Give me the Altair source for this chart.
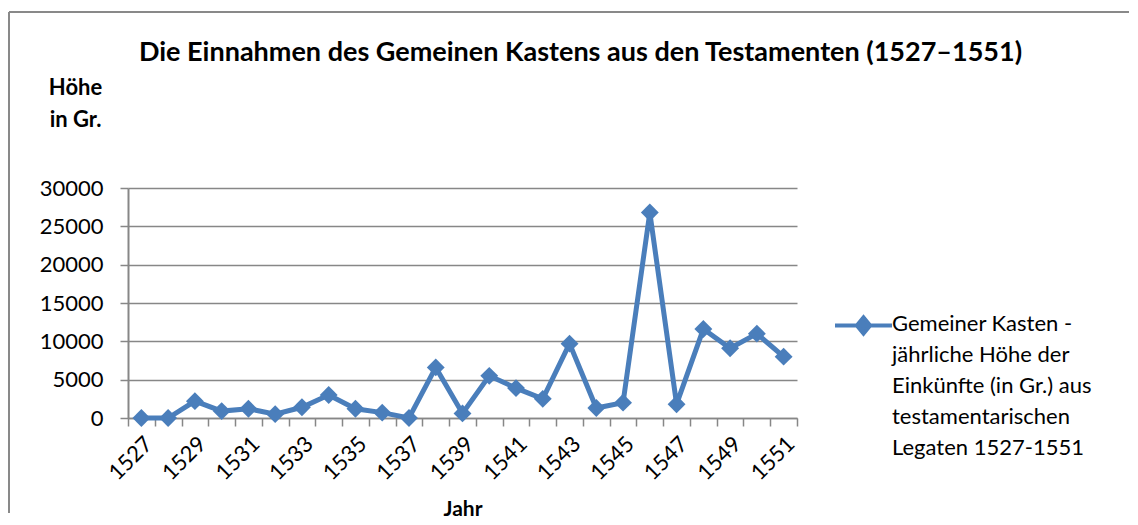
import altair as alt
import pandas as pd

years = list(range(1527, 1552))
values = [0, 0, 2200, 900, 1200, 500, 1400, 3000, 1200, 700, 0, 6600, 600,
          5500, 3900, 2500, 9700, 1300, 2000, 26800, 1800, 11600, 9100, 11000, 8000]
series_name = "Gemeiner Kasten - jährliche Höhe der Einkünfte (in Gr.) aus testamentarischen Legaten 1527-1551"
legend_lines = ["Gemeiner Kasten -", "jährliche Höhe der", "Einkünfte (in Gr.) aus",
                "testamentarischen", "Legaten 1527-1551"]
title_text = "Die Einnahmen des Gemeinen Kastens aus den Testamenten (1527–1551)"
y_title = ["Höhe", "in Gr."]
x_title = "Jahr"
y_ticks = [0, 5000, 10000, 15000, 20000, 25000, 30000]

df = pd.DataFrame({"Jahr": years, "Wert": values, "Serie": [series_name] * len(years)})

BLUE = "#4a7ebb"
GRID = "#878787"
FONT = "Lato"

x = alt.X("Jahr:O",
          scale=alt.Scale(type="band", paddingInner=0, paddingOuter=0),
          axis=alt.Axis(title=x_title, labelAngle=-45,
                        labelExpr="datum.value % 2 == 1 ? datum.label : ''",
                        labelOverlap=False, tickBand="extent", tickSize=8,
                        tickColor=GRID, tickWidth=1.5, domainColor=GRID, domainWidth=1.5,
                        labelFontSize=22, labelFont=FONT, labelColor="black",
                        titleFontSize=21, titleFont=FONT, titleFontWeight="bold",
                        titleColor="black", titleY=80, grid=False, labelPadding=7))
y = alt.Y("Wert:Q",
          scale=alt.Scale(domain=[0, 30000], nice=False),
          axis=alt.Axis(values=y_ticks, format="d", title=y_title, titleAngle=0,
                        titleAlign="center", titleX=-53, titleY=-111, titleBaseline="top",
                        titleLineHeight=32, titleFontSize=22, titleFont=FONT,
                        titleFontWeight="bold", titleColor="black",
                        tickSize=8, tickColor=GRID, tickWidth=1.5, labelPadding=17,
                        gridColor=GRID, gridWidth=1.5, gridOpacity=1,
                        domainColor=GRID, domainWidth=2,
                        labelFontSize=22, labelFont=FONT, labelColor="black"))

line = alt.Chart(df).mark_line(color=BLUE, strokeWidth=5).encode(x=x, y=y)

legend_path = "M-3,0L3,0M-0.7,0L0,-0.85L0.7,0L0,0.85Z"
points = alt.Chart(df).mark_point(shape="diamond", filled=True, size=320, opacity=1).encode(
    x=x, y=y,
    color=alt.Color("Serie:N", scale=alt.Scale(range=[BLUE]),
                    legend=alt.Legend(orient="none", legendX=724, legendY=126,
                                      title=legend_lines, titleOrient="right",
                                      titleAnchor="start", titleBaseline="top",
                                      titleFontSize=22, titleFont=FONT,
                                      titleFontWeight="normal", titleColor="black",
                                      titleLineHeight=31, titlePadding=-8, titleLimit=500,
                                      labelExpr="''", symbolType=legend_path,
                                      symbolSize=361, symbolStrokeWidth=4,
                                      symbolStrokeColor=BLUE, symbolFillColor=BLUE,
                                      symbolOpacity=1)))

frame_df = pd.DataFrame({"k": [0]})
frame_top = alt.Chart(frame_df).mark_rule(color="#898989", strokeWidth=2).encode(
    x=alt.value(-119), x2=alt.value(1001), y=alt.value(-176))
frame_left = alt.Chart(frame_df).mark_rule(color="#898989", strokeWidth=2).encode(
    x=alt.value(-119), y=alt.value(-176), y2=alt.value(325))

chart = alt.layer(frame_top, frame_left, line, points).properties(
    width=669, height=230,
    padding={"left": 0, "top": 3, "right": 0, "bottom": 0},
    title=alt.TitleParams(text=title_text, fontSize=27, font=FONT, fontWeight="bold",
                          color="black", offset=-56, dx=118, anchor="middle"),
).configure_view(stroke=None)

chart.save("out.html", embed_options={"renderer": "svg", "actions": False})
